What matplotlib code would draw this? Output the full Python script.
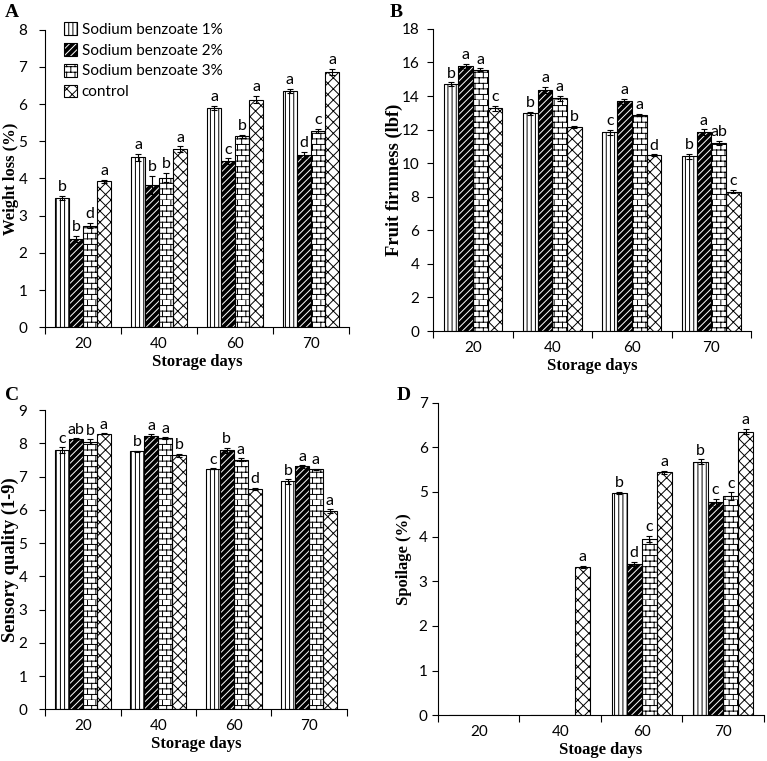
import matplotlib
matplotlib.use("Agg")
import matplotlib.pyplot as plt
import numpy as np
from matplotlib import hatch as mhatch
from matplotlib.path import Path
from matplotlib.patches import Patch
from matplotlib.transforms import blended_transform_factory

# Data
days = ["20", "40", "60", "70"]
series_names = ["Sodium benzoate 1%", "Sodium benzoate 2%", "Sodium benzoate 3%", "control"]

# Panel A - weight loss (%)
weight_loss = [
  [3.48, 4.57, 5.89, 6.35],
  [2.38, 3.82, 4.47, 4.63],
  [2.73, 4.02, 5.13, 5.28],
  [3.92, 4.79, 6.12, 6.87],
]
weight_loss_err = [
  [0.05, 0.10, 0.05, 0.06],
  [0.08, 0.25, 0.07, 0.08],
  [0.07, 0.12, 0.05, 0.05],
  [0.05, 0.07, 0.10, 0.08],
]
weight_loss_letters = [
  ["b", "a", "a", "a"],
  ["b", "b", "c", "d"],
  ["d", "b", "b", "c"],
  ["a", "a", "a", "a"],
]

# Panel B - fruit firmness (lbf)
firmness = [
  [14.70, 12.97, 11.83, 10.40],
  [15.77, 14.37, 13.68, 11.83],
  [15.58, 13.86, 12.88, 11.20],
  [13.27, 12.18, 10.47, 8.30],
]
firmness_err = [
  [0.12, 0.08, 0.15, 0.15],
  [0.15, 0.18, 0.15, 0.18],
  [0.08, 0.15, 0.08, 0.12],
  [0.15, 0.06, 0.06, 0.10],
]
firmness_letters = [
  ["b", "b", "c", "b"],
  ["a", "a", "a", "a"],
  ["a", "a", "a", "ab"],
  ["c", "b", "d", "c"],
]

# Panel C - sensory quality (1-9)
sensory = [
  [7.80, 7.76, 7.24, 6.86],
  [8.13, 8.22, 7.79, 7.31],
  [8.05, 8.16, 7.51, 7.22],
  [8.29, 7.64, 6.63, 5.97],
]
sensory_err = [
  [0.08, 0.02, 0.02, 0.07],
  [0.03, 0.06, 0.08, 0.04],
  [0.07, 0.02, 0.05, 0.02],
  [0.02, 0.05, 0.04, 0.06],
]
sensory_letters = [
  ["c", "b", "c", "b"],
  ["ab", "a", "b", "a"],
  ["b", "a", "a", "a"],
  ["a", "b", "d", "a"],
]

# Panel D - spoilage (%)
spoilage = [
  [0.0, 0.0, 4.98, 5.68],
  [0.0, 0.0, 3.39, 4.77],
  [0.0, 0.0, 3.94, 4.91],
  [0.0, 3.32, 5.44, 6.35],
]
spoilage_err = [
  [0.0, 0.0, 0.02, 0.05],
  [0.0, 0.0, 0.04, 0.08],
  [0.0, 0.0, 0.07, 0.08],
  [0.0, 0.02, 0.03, 0.06],
]
spoilage_letters = [
  ["", "", "b", "b"],
  ["", "", "d", "c"],
  ["", "", "c", "c"],
  ["", "a", "a", "a"],
]

tick_font = "Lato"
label_font = "Liberation Serif"
fig_w_px = 767


# Brick hatch (Excel style) - takes the place of the "O" large circles hatch
class BrickHatch(mhatch.HatchPatternBase):
  def __init__(self, hatch, density):
    self.num_rows = int(hatch.count("O") * density)
    self.num_cols = max(1, int(self.num_rows * 0.72))
    self.num_vertices = 2 * self.num_rows + 2 * self.num_rows * self.num_cols

  def set_vertices_and_codes(self, vertices, codes):
    n, m = self.num_rows, self.num_cols
    rows = np.arange(n) / n
    # horizontal mortar lines
    vertices[0:2 * n:2] = np.column_stack([np.zeros(n), rows])
    vertices[1:2 * n:2] = np.column_stack([np.ones(n), rows])
    # vertical joints, shifted half a brick on every other row
    cursor = 2 * n
    for k in range(n):
      xs = (np.arange(m) + 0.5 * (k % 2)) / m
      seg = vertices[cursor:cursor + 2 * m]
      seg[0::2] = np.column_stack([xs, np.full(m, k / n)])
      seg[1::2] = np.column_stack([xs, np.full(m, (k + 1) / n)])
      cursor += 2 * m
    codes[0::2] = Path.MOVETO
    codes[1::2] = Path.LINETO


mhatch._hatch_types = [t for t in mhatch._hatch_types if t is not mhatch.LargeCircles]
mhatch._hatch_types.append(BrickHatch)

plt.rcParams["hatch.linewidth"] = 0.7
plt.rcParams["font.family"] = tick_font

# Bar styles for each series
bar_width = 0.185
styles = [
  dict(facecolor="white", edgecolor="black", hatch="||||"),
  dict(facecolor="black", edgecolor="white", hatch="/////"),
  dict(facecolor="white", edgecolor="black", hatch="OOO"),
  dict(facecolor="white", edgecolor="black", hatch="xxx"),
]


def draw_panel(ax, values, errors, letters, ylim, ystep, ylabel, xlabel, letter_pad,
               ylabel_size, ylabel_right_px, ytick_pad):
  x = np.arange(len(days))
  for i in range(len(series_names)):
    offsets = x + (i - 1.5) * bar_width
    vals = np.array(values[i])
    errs = np.array(errors[i])
    ax.bar(offsets, vals, width=bar_width, linewidth=0, zorder=2, **styles[i])
    ax.bar(offsets, vals, width=bar_width, facecolor="none", edgecolor="black",
           linewidth=0.8, zorder=3)
    shown = vals > 0
    ax.errorbar(offsets[shown], vals[shown], yerr=errs[shown], fmt="none",
                ecolor="black", elinewidth=0.8, capsize=2.5, capthick=0.8, zorder=4)
    for xpos, val, err, lab in zip(offsets, vals, errs, letters[i]):
      if lab:
        ax.text(xpos, val + err + letter_pad, lab, ha="center", va="bottom",
                fontsize=11.5, family=tick_font)

  ax.set_xlim(-0.5, len(days) - 0.5)
  ax.set_ylim(*ylim)
  ax.set_yticks(np.arange(ylim[0], ylim[1] + ystep / 2, ystep))
  ax.set_xticks(x)
  ax.set_xticklabels(days)
  ax.set_xticks(np.arange(-0.5, len(days)), minor=True)
  ax.tick_params(axis="x", which="major", length=0, pad=7, labelsize=11)
  ax.tick_params(axis="x", which="minor", length=5, width=0.8, direction="out")
  ax.tick_params(axis="y", length=4, width=0.8, labelsize=11, pad=ytick_pad)
  ax.spines["top"].set_visible(False)
  ax.spines["right"].set_visible(False)
  ax.spines["left"].set_linewidth(0.8)
  ax.spines["bottom"].set_linewidth(0.8)
  ax.set_ylabel(ylabel, family=label_font, fontweight="bold", fontsize=ylabel_size)
  ax.yaxis.set_label_coords(ylabel_right_px / fig_w_px, 0.5,
                            transform=blended_transform_factory(fig.transFigure, ax.transAxes))
  ax.set_xlabel(xlabel, family=label_font, fontweight="bold", fontsize=12, labelpad=2)


fig = plt.figure(figsize=(7.67, 7.61), dpi=100)

ax_a = fig.add_axes([0.059, 0.570, 0.396, 0.391])
ax_b = fig.add_axes([0.565, 0.565, 0.414, 0.397])
ax_c = fig.add_axes([0.059, 0.068, 0.393, 0.393])
ax_d = fig.add_axes([0.571, 0.060, 0.425, 0.411])

draw_panel(ax_a, weight_loss, weight_loss_err, weight_loss_letters, (0, 8), 1,
           "Weight loss (%)", "Storage days", 0.05, 12, 19, 9)
draw_panel(ax_b, firmness, firmness_err, firmness_letters, (0, 18), 2,
           "Fruit firmness (lbf)", "Storage days", 0.1, 13.3, 403, 6)
draw_panel(ax_c, sensory, sensory_err, sensory_letters, (0, 9), 1,
           "Sensory quality (1-9)", "Storage days", 0.04, 13.3, 19, 9)
draw_panel(ax_d, spoilage, spoilage_err, spoilage_letters, (0, 7), 1,
           "Spoilage (%)", "Stoage days", 0.04, 12, 412, 3.5)

# Legend in panel A
handles = [
  Patch(facecolor="white", edgecolor="black", hatch="||||", linewidth=0.8),
  (Patch(facecolor="black", edgecolor="white", hatch="/////", linewidth=0),
   Patch(facecolor="none", edgecolor="black", linewidth=0.8)),
  Patch(facecolor="white", edgecolor="black", hatch="OOO", linewidth=0.8),
  Patch(facecolor="white", edgecolor="black", hatch="xxx", linewidth=0.8),
]
ax_a.legend(handles, series_names, loc="upper left", bbox_to_anchor=(0.035, 1.05),
            frameon=False, fontsize=11, handlelength=0.9, handleheight=0.9,
            handletextpad=0.3, labelspacing=0.4, borderpad=0)

# Panel letters
for label, xpos, ypos in [("A", 0.006, 0.995), ("B", 0.508, 0.995),
                          ("C", 0.006, 0.492), ("D", 0.517, 0.492)]:
  fig.text(xpos, ypos, label, family=label_font, fontweight="bold", fontsize=14,
           va="top", ha="left")

fig.savefig("out.png", dpi=100)
